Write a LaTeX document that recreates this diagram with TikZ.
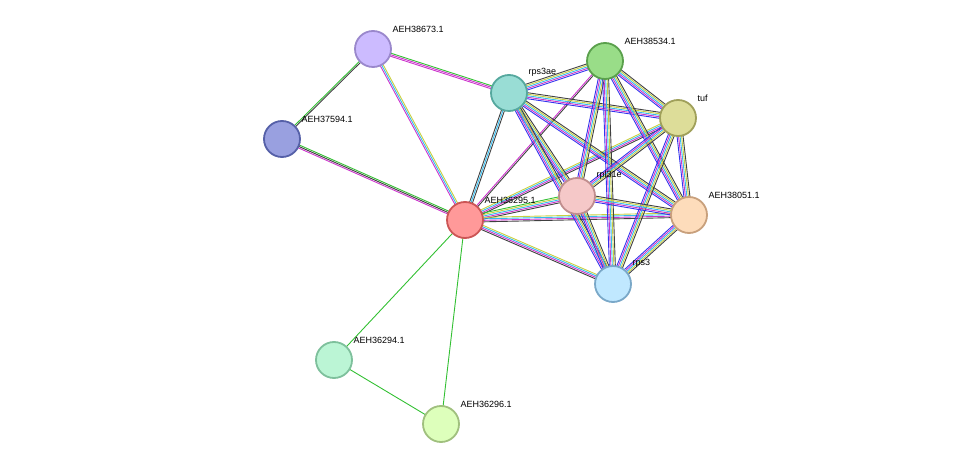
\documentclass[tikz,border=0pt]{standalone}
\usepackage{fontspec}
\setmainfont{Liberation Sans}
\usetikzlibrary{calc,backgrounds}
\definecolor{eGrn}{HTML}{33C033}
\definecolor{eMag}{HTML}{CC33CC}
\definecolor{eCya}{HTML}{33BBEE}
\definecolor{eYel}{HTML}{C8D040}
\definecolor{eBlk}{HTML}{404040}
\definecolor{eBlu}{HTML}{3333EE}
\definecolor{fA}{HTML}{CCBBFF}\definecolor{dA}{HTML}{9A88CC}
\definecolor{fB}{HTML}{99A0E0}\definecolor{dB}{HTML}{5560A8}
\definecolor{fC}{HTML}{99DDD5}\definecolor{dC}{HTML}{55A89E}
\definecolor{fD}{HTML}{99DD88}\definecolor{dD}{HTML}{5AA04C}
\definecolor{fE}{HTML}{DDDD99}\definecolor{dE}{HTML}{A0A05A}
\definecolor{fF}{HTML}{F5C8C8}\definecolor{dF}{HTML}{C08E8E}
\definecolor{fG}{HTML}{FDDCBB}\definecolor{dG}{HTML}{C8A07C}
\definecolor{fH}{HTML}{FF9999}\definecolor{dH}{HTML}{CC5555}
\definecolor{fI}{HTML}{C0E8FF}\definecolor{dI}{HTML}{7AA8C8}
\definecolor{fJ}{HTML}{BBF5D5}\definecolor{dJ}{HTML}{7EC09C}
\definecolor{fK}{HTML}{DDFFBB}\definecolor{dK}{HTML}{A0C07E}
\tikzset{
  prot/.style 2 args={circle, minimum size=36pt, inner sep=0pt, line width=1.8pt,
    fill=f#2, draw=d#2, label={[lbl]45:#1}},
  lbl/.style={font=\fontsize{9}{10}\selectfont, inner sep=1pt, label distance=3pt, xshift=3pt},
  strand/.style={line width=0.9pt}
}
% multi coloured link: from, to, number of strands, colours
\newcommand{\lnk}[4]{\foreach \c [count=\i] in {#4}{%
  \pgfmathsetmacro\o{(\i-(#3+1)/2)*1.5}
  \draw[strand, \c] ($(#1)!\o pt!90:(#2)$) -- ($(#2)!\o pt!-90:(#1)$);}}
\begin{document}
\begin{tikzpicture}[x=1pt,y=-1pt]
\useasboundingbox (0,0) rectangle (975,470);

\node[prot={AEH38673.1}{A}] (p38673) at (373,49) {};
\node[prot={AEH37594.1}{B}] (p37594) at (282,139) {};
\node[prot={rps3ae}{C}] (rps3ae) at (509,93) {};
\node[prot={AEH38534.1}{D}] (p38534) at (605,61) {};
\node[prot={tuf}{E}] (tuf) at (678,118) {};
\node[prot={rpl31e}{F}] (rpl31e) at (577,196) {};
\node[prot={AEH38051.1}{G}] (p38051) at (689,215) {};
\node[prot={AEH36295.1}{H}] (p36295) at (465,220) {};
\node[prot={rps3}{I}] (rps3) at (613,284) {};
\node[prot={AEH36294.1}{J}] (p36294) at (334,360) {};
\node[prot={AEH36296.1}{K}] (p36296) at (441,424) {};

\begin{pgfonlayer}{background}
\lnk{p38673}{p37594}{2}{eGrn,eBlk}
\lnk{p38673}{rps3ae}{3}{eMag,eMag,eGrn}
\lnk{p38673}{p36295}{3}{eMag,eCya,eYel}
\lnk{p37594}{p36295}{3}{eMag,eBlk,eGrn}
\lnk{p36295}{p36294}{1}{eGrn}
\lnk{p36295}{p36296}{1}{eGrn}
\lnk{p36294}{p36296}{1}{eGrn}
\lnk{p36295}{rps3ae}{3}{eBlk,eCya,eBlk}
\lnk{p36295}{p38534}{2}{eBlk,eMag}
\lnk{p36295}{tuf}{4}{eBlk,eMag,eCya,eYel}
\lnk{p36295}{rpl31e}{5}{eBlk,eMag,eCya,eYel,eGrn}
\lnk{p36295}{p38051}{4}{eBlk,eMag,eCya,eYel}
\lnk{p36295}{rps3}{4}{eBlk,eMag,eCya,eYel}
\foreach \a/\b in {rps3ae/p38534, rps3ae/tuf, rps3ae/rpl31e, rps3ae/p38051, rps3ae/rps3,
  p38534/tuf, p38534/rpl31e, p38534/p38051, p38534/rps3,
  tuf/rpl31e, tuf/p38051, tuf/rps3,
  rpl31e/p38051, rpl31e/rps3, p38051/rps3}{
  \lnk{\a}{\b}{5}{eBlu,eMag,eCya,eYel,eBlk}}
\end{pgfonlayer}
\end{tikzpicture}
\end{document}
